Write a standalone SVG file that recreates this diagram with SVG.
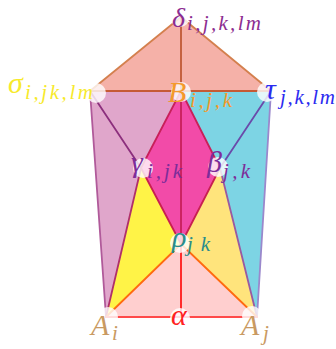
<svg xmlns="http://www.w3.org/2000/svg" width="336" height="349" viewBox="0 0 336 349">
<style>
.m{font-family:"Liberation Serif","DejaVu Serif",serif;font-style:italic;font-size:30px}
.s{font-family:"Liberation Serif","DejaVu Serif",serif;font-style:italic;font-size:21px}
.dot{fill:#fff;fill-opacity:0.8}
.e{fill:none;stroke-width:1.8;stroke-linecap:round}
</style>
<rect width="336" height="349" fill="#fff"/>
<g id="faces" stroke="none">
<polygon points="181,17 90,91 271,91" fill="#f5b1a8"/>
<polygon points="90,91 181,91 141,168 106,317" fill="#e0a6cb"/>
<polygon points="181,91 271,91 257,317 220,168" fill="#7dd4e4"/>
<polygon points="181,91 141,168 181,244 220,168" fill="#f24ba8"/>
<polygon points="141,168 181,244 106,317" fill="#fff347"/>
<polygon points="220,168 181,244 257,317" fill="#ffe47c"/>
<polygon points="106,317 181,244 257,317" fill="#ffcfcf"/>
</g>
<g id="connectors" class="e">
<line x1="181" y1="17" x2="90" y2="91" stroke="#d4804e"/>
<line x1="181" y1="17" x2="271" y2="91" stroke="#d4804e"/>
<line x1="90" y1="91" x2="271" y2="91" stroke="#c55a35"/>
<line x1="181" y1="17" x2="181" y2="91" stroke="#c05a35"/>
<line x1="90" y1="91" x2="141" y2="168" stroke="#8c2f7d"/>
<line x1="271" y1="91" x2="220" y2="168" stroke="#6a4aaa"/>
<line x1="90" y1="91" x2="106" y2="317" stroke="#b05a9a"/>
<line x1="271" y1="91" x2="257" y2="317" stroke="#9a88cc"/>
<line x1="181" y1="91" x2="141" y2="168" stroke="#c8205a"/>
<line x1="181" y1="91" x2="220" y2="168" stroke="#c8205a"/>
<line x1="181" y1="91" x2="181" y2="244" stroke="#c8205a"/>
<line x1="141" y1="168" x2="181" y2="244" stroke="#c82050"/>
<line x1="220" y1="168" x2="181" y2="244" stroke="#c82050"/>
<line x1="141" y1="168" x2="106" y2="317" stroke="#b0306a"/>
<line x1="220" y1="168" x2="257" y2="317" stroke="#9a5aa0"/>
<line x1="181" y1="244" x2="106" y2="317" stroke="#ff6a10"/>
<line x1="181" y1="244" x2="257" y2="317" stroke="#ff6a10"/>
<line x1="181" y1="244" x2="181" y2="317" stroke="#ff1a1a"/>
<line x1="106" y1="317" x2="257" y2="317" stroke="#ff4a4a"/>
</g>
<g id="delta"><circle class="dot" cx="180" cy="17" r="10"/><text class="m" x="172" y="27" fill="#8c2d91" style="font-size:28px">δ</text><text class="s" x="187" y="30" fill="#8c2d91" textLength="74" lengthAdjust="spacing">i,j,k,lm</text></g>
<g id="sigma"><circle class="dot" cx="96" cy="93" r="10"/><text class="m" x="8" y="93" fill="#f7ea2c">σ</text><text class="s" x="25" y="99" fill="#f7ea2c" textLength="68" lengthAdjust="spacing">i,jk,lm</text></g>
<g id="B"><circle class="dot" cx="181" cy="92" r="10"/><text class="m" x="168" y="102" fill="#f39a2c">B</text><text class="s" x="190" y="107" fill="#f39a2c" textLength="42" lengthAdjust="spacing">i,j,k</text></g>
<g id="tau"><circle class="dot" cx="267" cy="92" r="10"/><text class="m" x="265" y="99" fill="#2b2bf0">τ</text><text class="s" x="280" y="104" fill="#2b2bf0" textLength="55" lengthAdjust="spacing">j,k,lm</text></g>
<g id="gamma"><circle class="dot" cx="143" cy="168" r="10"/><text class="m" x="131" y="172" fill="#7d2d99">γ</text><text class="s" x="147" y="178" fill="#7d2d99" textLength="35" lengthAdjust="spacing">i,jk</text></g>
<g id="beta"><circle class="dot" cx="218" cy="167" r="10"/><text class="m" x="207" y="172" fill="#7d2d99">β</text><text class="s" x="223" y="178" fill="#7d2d99" textLength="27" lengthAdjust="spacing">j,k</text></g>
<g id="rho"><circle class="dot" cx="180" cy="243" r="10"/><text class="m" x="172" y="247" fill="#2a8c8c">ρ</text><text class="s" x="187" y="251" fill="#2a8c8c" textLength="23" lengthAdjust="spacing">jk</text></g>
<g id="alpha"><circle class="dot" cx="180" cy="318" r="10"/><text class="m" x="171" y="325" fill="#ff2222">α</text></g>
<g id="Ai"><circle class="dot" cx="108" cy="317" r="10"/><text class="m" x="91" y="335" fill="#c99a62">A</text><text class="s" x="112" y="340" fill="#c99a62">i</text></g>
<g id="Aj"><circle class="dot" cx="252" cy="316" r="10"/><text class="m" x="241" y="335" fill="#c99a62">A</text><text class="s" x="263" y="340" fill="#c99a62">j</text></g>
</svg>
